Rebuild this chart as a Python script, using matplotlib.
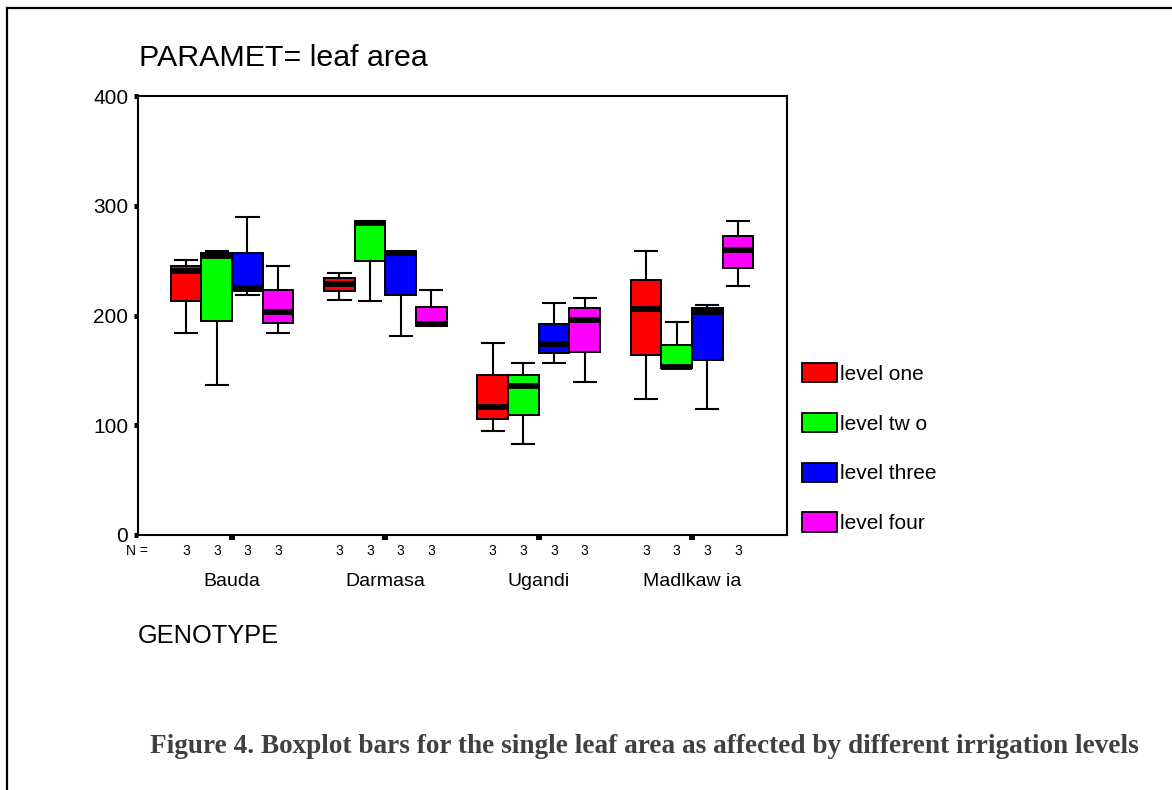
import matplotlib
matplotlib.use('Agg')
import matplotlib.pyplot as plt
from matplotlib.patches import Patch
from matplotlib.lines import Line2D
from matplotlib.transforms import blended_transform_factory

plt.rcParams['font.family'] = ['Liberation Sans', 'DejaVu Sans']

genotypes = ['Bauda', 'Darmasa', 'Ugandi', 'Madlkaw ia']
levels = ['level one', 'level tw o', 'level three', 'level four']
colors = ['#ff0000', '#00ff00', '#0000ff', '#ff00ff']
n_counts = [3, 3, 3, 3]

# whislo, q1, med, q3, whishi per genotype
level_one = [(184, 213, 241, 245, 251), (214.5, 222, 229, 234.5, 239),
             (95, 106, 117, 145.5, 174.5), (124, 164, 206, 232.7, 259)]
level_two = [(137, 195, 254.5, 257, 259), (213, 249.5, 284, 286.5, 286.5),
             (83, 109, 135.7, 145.5, 156.4), (152, 152, 153.5, 172.7, 194.5)]
level_three = [(219, 222, 225.5, 257, 289.4), (181, 219, 256.7, 258.8, 259),
               (156.4, 165.5, 173.6, 192.7, 211), (114.5, 159, 203, 206.7, 210)]
level_four = [(184, 193, 203, 223.6, 245), (190, 190, 192.4, 208, 223.6),
              (139.4, 166.4, 195.5, 206.7, 216), (226.6, 243.3, 259.4, 272.7, 286.4)]
all_levels = [level_one, level_two, level_three, level_four]
offsets = [-0.3, -0.1, 0.1, 0.3]

W, H = 1172, 790
fig = plt.figure(figsize=(W / 100, H / 100), dpi=100)
ax = fig.add_axes([138 / W, 1 - 535 / H, (787 - 138) / W, (535 - 96) / H])

for data, col, off in zip(all_levels, colors, offsets):
    stats = []
    for s in data:
        stats.append({'whislo': s[0], 'q1': s[1], 'med': s[2], 'q3': s[3], 'whishi': s[4]})
    pos = [g + 1 + off for g in range(len(genotypes))]
    ax.bxp(stats, positions=pos, widths=0.2, capwidths=0.145, showfliers=False,
           patch_artist=True, manage_ticks=False,
           boxprops=dict(facecolor=col, edgecolor='black', linewidth=1.4),
           medianprops=dict(color='black', linewidth=4.2, solid_capstyle='butt'),
           whiskerprops=dict(color='black', linewidth=1.5),
           capprops=dict(color='black', linewidth=1.5))

ax.set_xlim(0.386, 4.62)
ax.set_ylim(0, 400)
ax.set_yticks([0, 100, 200, 300, 400])
ax.set_xticks([1, 2, 3, 4])
ax.set_xticklabels(genotypes)
ax.tick_params(axis='y', length=3, width=3.6, labelsize=15, pad=4)
ax.tick_params(axis='x', length=3.6, width=4.3, labelsize=14, pad=24)
for sp in ax.spines.values():
    sp.set_linewidth(1.5)

trans = blended_transform_factory(ax.transData, ax.transAxes)
ax.text(-0.0023, -0.036, 'N =', transform=ax.transAxes, ha='center', va='center', fontsize=10)
for g in range(len(genotypes)):
    for off, n in zip(offsets, n_counts):
        ax.text(g + 1 + off, -0.036, str(n), transform=trans, ha='center', va='center', fontsize=10)

handles = [Patch(facecolor=c, edgecolor='black', linewidth=1.3) for c in colors]
fig.legend(handles=handles, labels=levels, loc='upper left',
           bbox_to_anchor=(802 / W, 1 - 363 / H), frameon=False, fontsize=15,
           handlelength=1.68, handleheight=1.06, labelspacing=1.39,
           handletextpad=0.15, borderpad=0, borderaxespad=0)

fig.text(139 / W, 1 - 66 / H, 'PARAMET= leaf area', fontsize=21.9, va='baseline', ha='left')
fig.text(138 / W, 1 - 636 / H, 'GENOTYPE', fontsize=18.3, va='center', ha='left')
fig.text(644 / W, 1 - 753 / H,
         'Figure 4. Boxplot bars for the single leaf area as affected by different irrigation levels',
         fontsize=19.6, fontweight='bold', family=['Liberation Serif', 'DejaVu Serif'],
         color='#404040', ha='center', va='baseline')

fig.add_artist(Line2D([7 / W, 7 / W], [0, 1 - 8 / H], transform=fig.transFigure, color='black', lw=1.6))
fig.add_artist(Line2D([7 / W, 1], [1 - 8 / H, 1 - 8 / H], transform=fig.transFigure, color='black', lw=1.6))

fig.savefig('out.png', dpi=100)
